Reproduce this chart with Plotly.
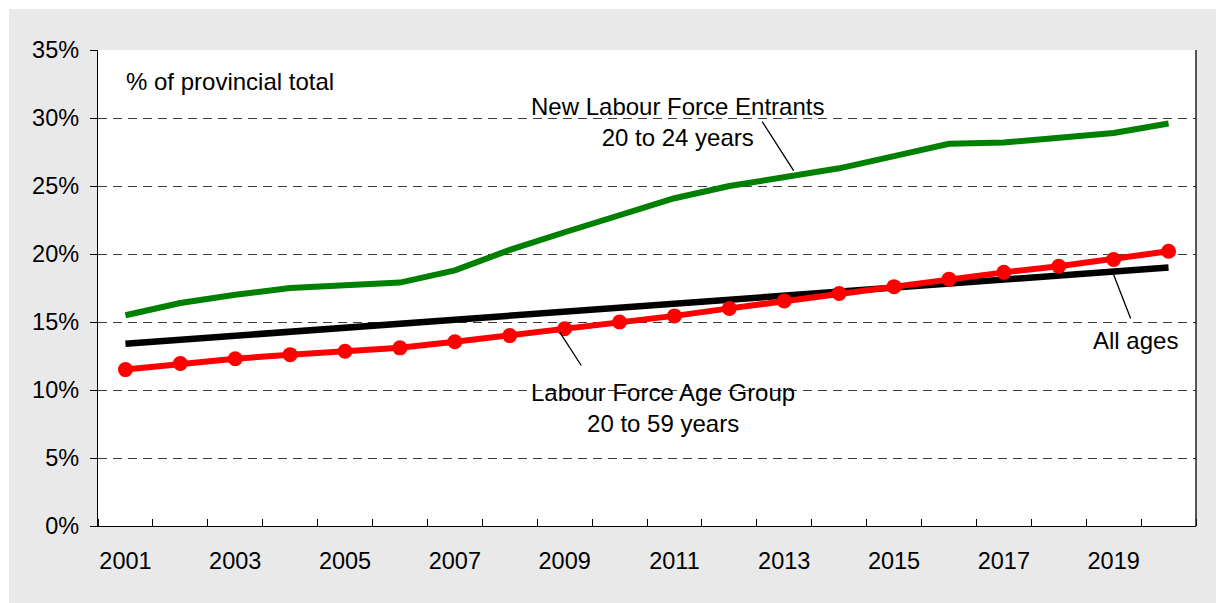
import numpy as np
import plotly.graph_objects as go

# Share of provincial total (%), 2001-2020
years = list(range(2001, 2021))
new_entrants_20_24 = [15.5, 16.4, 17.0, 17.5, 17.7, 17.9, 18.8, 20.3, 21.6, 22.8,
                      24.1, 25.0, 25.6, 26.3, 27.2, 28.1, 28.2, 28.5, 28.9, 29.6]
all_ages = [13.4, 13.7, 14.0, 14.3, 14.6, 14.9, 15.2, 15.5, 15.8, 16.1,
            16.4, 16.7, 17.0, 17.3, 17.6, 17.9, 18.2, 18.5, 18.8, 19.0]
age_group_20_59 = [11.5, 11.95, 12.3, 12.6, 12.85, 13.1, 13.55, 14.0, 14.5, 15.0,
                   15.45, 16.0, 16.55, 17.1, 17.6, 18.15, 18.65, 19.1, 19.6, 20.2]

x_tick_years = list(range(2001, 2020, 2))
y_ticks = list(range(0, 36, 5))

FONT = "Arial, Liberation Sans, sans-serif"
GRAY = "#e9e9e9"
TICK_SIZE = 23.5
LABEL_SIZE = 24

# plot-area geometry in pixels
L, R, T, B = 98, 20, 50, 77
W, H = 1216, 603
PW, PH = W - L - R, H - T - B

fig = go.Figure()
fig.add_trace(go.Scatter(x=years, y=all_ages, mode="lines",
                         line=dict(color="black", width=6.5), name="All ages"))
fig.add_trace(go.Scatter(x=years, y=new_entrants_20_24, mode="lines",
                         line=dict(color="#008000", width=6),
                         name="New Labour Force Entrants 20 to 24 years"))
fig.add_trace(go.Scatter(x=years, y=age_group_20_59, mode="lines+markers",
                         line=dict(color="#ff0000", width=6),
                         marker=dict(color="#ff0000", size=15),
                         name="Labour Force Age Group 20 to 59 years"))


def interp(series, x):
    return float(np.interp(x, years, series))


# leader lines: tip on the series, tail toward its label
leaders = [
    (new_entrants_20_24, 2013.23, 2012.58, 29.85, 6),
    (age_group_20_59, 2008.88, 2009.32, 11.69, 3),
    (all_ages, 2018.97, 2019.32, 15.15, 3),
]
annotations = []
for series, xt, xa, ya, so in leaders:
    annotations.append(dict(
        x=xt, y=interp(series, xt), ax=xa, ay=ya, xref="x", yref="y",
        axref="x", ayref="y", text="", showarrow=True, arrowhead=0,
        arrowwidth=1.3, arrowcolor="black", standoff=so))


def px_to_paper(px, py):
    return (px - L) / PW, (T + PH - py) / PH


labels = [
    ("% of provincial total", 124, 81, "left"),
    ("New Labour Force Entrants<br>20 to 24 years", 677.5, 122, "center"),
    ("Labour Force Age Group<br>20 to 59 years", 663, 407.5, "center"),
    ("All ages", 1135, 340, "center"),
]
for text, px, py, anchor in labels:
    xp, yp = px_to_paper(px, py)
    annotations.append(dict(
        x=xp, y=yp, xref="paper", yref="paper", text=text, showarrow=False,
        xanchor=anchor, yanchor="middle", align="center",
        font=dict(family=FONT, size=LABEL_SIZE, color="black")))

# white strips along the top and left edge of the canvas
x0p, _ = px_to_paper(0, 0)
x9p, _ = px_to_paper(9, 0)
_, y0p = px_to_paper(0, 0)
_, y9p = px_to_paper(0, 9)
_, ybot = px_to_paper(0, H)
xr, _ = px_to_paper(W, 0)
shapes = [
    dict(type="rect", xref="paper", yref="paper", x0=x0p, x1=x9p, y0=ybot, y1=y0p,
         fillcolor="white", line=dict(width=0), layer="above"),
    dict(type="rect", xref="paper", yref="paper", x0=x0p, x1=xr, y0=y9p, y1=y0p,
         fillcolor="white", line=dict(width=0), layer="above"),
    # right border of the plot area
    dict(type="line", xref="paper", yref="paper", x0=1, x1=1, y0=0, y1=1,
         line=dict(color="black", width=1.3), layer="above"),
]

fig.update_layout(
    width=W, height=H,
    margin=dict(l=L, r=R, t=T, b=B),
    paper_bgcolor=GRAY, plot_bgcolor="white",
    showlegend=False,
    font=dict(family=FONT, size=TICK_SIZE, color="black"),
    annotations=annotations,
    shapes=shapes,
    xaxis=dict(
        range=[2000.5, 2020.5], tickmode="array", tickvals=x_tick_years,
        ticktext=[str(y) for y in x_tick_years],
        ticks="outside", ticklen=14, tickcolor="rgba(0,0,0,0)",
        showgrid=False, zeroline=False,
        showline=True, linecolor="black", linewidth=1.3,
        minor=dict(tick0=2000.5, dtick=1, ticks="inside", ticklen=7,
                   tickcolor="black", tickwidth=1, showgrid=False),
        tickfont=dict(family=FONT, size=TICK_SIZE, color="black"),
    ),
    yaxis=dict(
        range=[0, 35], tickmode="array", tickvals=y_ticks,
        ticktext=[f"{v}%" for v in y_ticks],
        ticks="outside", ticklen=7, tickcolor="black", tickwidth=1,
        showgrid=True, gridcolor="#3c3c3c", gridwidth=1, griddash="9px,6px",
        zeroline=False,
        showline=True, linecolor="black", linewidth=1.3,
        ticklabelstandoff=6,
        tickfont=dict(family=FONT, size=TICK_SIZE, color="black"),
    ),
)

fig.write_html("out.html")
